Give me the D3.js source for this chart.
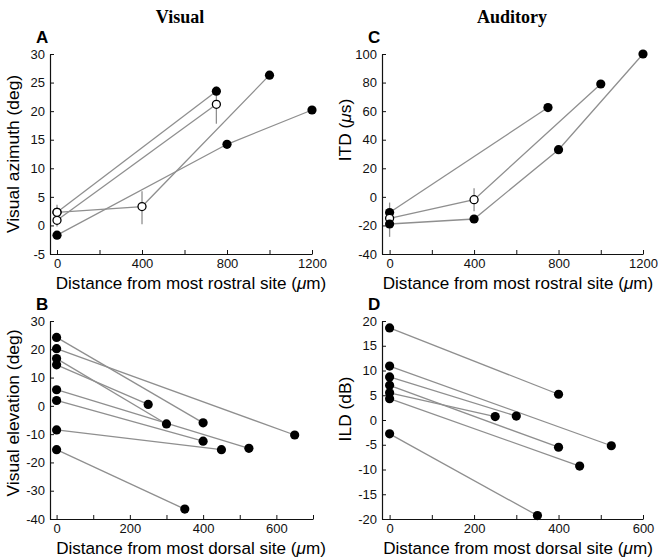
<!DOCTYPE html>
<html>
<head>
<meta charset="utf-8">
<script src="https://cdn.jsdelivr.net/npm/d3@7"></script>
<style>
  html, body { margin: 0; padding: 0; background: #fff; }
  svg { display: block; }
</style>
</head>
<body>
<svg id="chart" width="658" height="558"></svg>
<script>
// ---------------- DATA ----------------
// Panel A: visual azimuth vs distance from most rostral site
const panelA_series = [
  { x: [0, 800, 1200], y: [-1.7, 14.2, 20.2], open: [false, false, false] },
  { x: [0, 750],       y: [2.3, 23.5],        open: [true, false] },
  { x: [0, 750],       y: [0.9, 21.2],        open: [true, true] },
  { x: [0, 400, 1000], y: [2.3, 3.3, 26.3],   open: [true, true, false] }
];
const panelA_errors = [ // [x, low, high]
  [0, 1.0, 3.6], [0, -0.2, 2.0], [400, 0.2, 6.0], [750, 17.8, 24.3]
];
// Panel C: ITD vs distance from most rostral site
const panelC_series = [
  { x: [0, 750],            y: [-11, 62.5],            open: [false, false] },
  { x: [0, 400, 1000],      y: [-15, -2, 79],          open: [true, true, false] },
  { x: [0, 400, 800, 1200], y: [-19, -15.5, 33, 100],  open: [false, false, false, false] }
];
const panelC_errors = [
  [0, -28, -4], [400, -10, 6]
];
// Panel B: visual elevation vs distance from most dorsal site
const panelB_start = [24.2, 20.2, 16.7, 14.5, 5.7, 1.9, -8.5, -15.5];
const panelB_endX  = [400, 650, 300, 250, 525, 400, 450, 350];
const panelB_endY  = [-6, -10.3, -6.4, 0.5, -15, -12.5, -15.5, -36.5];
// Panel D: ILD vs distance from most dorsal site
const panelD_start = [18.6, 10.9, 8.7, 7.0, 5.5, 4.3, -2.8];
const panelD_endX  = [400, 525, 300, 400, 250, 450, 350];
const panelD_endY  = [5.2, -5.2, 0.8, -5.5, 0.7, -9.3, -19.3];

// Tick values
const ticksA_x = [0, 200, 400, 600, 800, 1000, 1200];
const ticksA_y = [-5, 0, 5, 10, 15, 20, 25, 30];
const ticksC_y = [-40, -20, 0, 20, 40, 60, 80, 100];
const ticksB_x = [0, 100, 200, 300, 400, 500, 600, 700];
const ticksB_y = [-40, -30, -20, -10, 0, 10, 20, 30];
const ticksD_x = [0, 100, 200, 300, 400, 500, 600];
const ticksD_y = [-20, -15, -10, -5, 0, 5, 10, 15, 20];

// ---------------- DRAW ----------------
const svg = d3.select("#chart");
const SANS = "'Liberation Sans', Arial, Helvetica, sans-serif";
const SERIF = "'Liberation Serif', 'Times New Roman', serif";
const LINE = "#8f8f8f";

function toSeriesFromPairs(starts, endX, endY) {
  return starts.map((s, i) => ({ x: [0, endX[i]], y: [s, endY[i]], open: [false, false] }));
}

function panel(cfg) {
  const g = svg.append("g");
  const x = d3.scaleLinear().domain(cfg.xDomain).range([cfg.left, cfg.right]);
  const y = d3.scaleLinear().domain(cfg.yDomain).range([cfg.bottom, cfg.top]);

  const xAxis = d3.axisBottom(x).tickValues(cfg.xTicks)
    .tickFormat(d => (cfg.xLabelEvery && d % cfg.xLabelEvery !== 0) ? "" : String(d))
    .tickSizeInner(-4).tickSizeOuter(0).tickPadding(5);
  const yAxis = d3.axisLeft(y).tickValues(cfg.yTicks)
    .tickFormat(d => String(d))
    .tickSizeInner(-4).tickSizeOuter(0).tickPadding(5);

  const gx = g.append("g").attr("transform", `translate(0,${cfg.bottom})`).call(xAxis);
  const gy = g.append("g").attr("transform", `translate(${cfg.left},0)`).call(yAxis);
  [gx, gy].forEach(a => {
    a.selectAll("text").attr("font-family", SANS).attr("font-size", 13).attr("fill", "#111");
    a.selectAll("line").attr("stroke", "#111");
    a.select(".domain").attr("stroke", "#111").attr("stroke-width", 1.2);
  });

  // series lines
  const line = d3.line().x(d => x(d[0])).y(d => y(d[1]));
  cfg.series.forEach(s => {
    const pts = s.x.map((v, i) => [v, s.y[i]]);
    g.append("path").attr("d", line(pts)).attr("fill", "none")
      .attr("stroke", LINE).attr("stroke-width", 1.3);
  });
  // error bars
  (cfg.errors || []).forEach(e => {
    g.append("line").attr("x1", x(e[0])).attr("x2", x(e[0]))
      .attr("y1", y(e[1])).attr("y2", y(e[2]))
      .attr("stroke", LINE).attr("stroke-width", 1.3);
  });
  // markers
  cfg.series.forEach(s => {
    s.x.forEach((v, i) => {
      const c = g.append("circle").attr("cx", x(v)).attr("cy", y(s.y[i]));
      if (s.open[i]) c.attr("r", 4).attr("fill", "#fff").attr("stroke", "#000").attr("stroke-width", 1.3);
      else c.attr("r", 4.6).attr("fill", "#000");
    });
  });

  // panel letter
  g.append("text").attr("x", cfg.left - 14).attr("y", cfg.top - 11)
    .attr("font-family", SANS).attr("font-weight", "bold").attr("font-size", 17)
    .text(cfg.letter);

  // x label
  const xl = g.append("text")
    .attr("x", cfg.xLabelX).attr("y", cfg.bottom + 35)
    .attr("text-anchor", "middle").attr("font-family", SANS).attr("font-size", 17.1);
  xl.append("tspan").text(cfg.xLabel + " (");
  xl.append("tspan").attr("font-style", "italic").text("μ");
  xl.append("tspan").text("m)");

  // y label
  const yl = g.append("text")
    .attr("transform", `translate(${cfg.left - 31},${cfg.yLabelY}) rotate(-90)`)
    .attr("text-anchor", "middle").attr("font-family", SANS).attr("font-size", 17.4);
  cfg.yLabel.forEach(p => {
    const t = yl.append("tspan").text(p.t);
    if (p.i) t.attr("font-style", "italic");
  });
}

panel({
  letter: "A", left: 50, right: 312, top: 54, bottom: 254,
  xDomain: [-33, 1200], yDomain: [-5, 30],
  xTicks: ticksA_x, xLabelEvery: 400, yTicks: ticksA_y,
  series: panelA_series, errors: panelA_errors, xLabelX: 191,
  xLabel: "Distance from most rostral site", yLabel: [{ t: "Visual azimuth (deg)" }], yLabelY: 154
});
panel({
  letter: "C", left: 382, right: 643, top: 54, bottom: 254,
  xDomain: [-36, 1200], yDomain: [-40, 100],
  xTicks: ticksA_x, xLabelEvery: 400, yTicks: ticksC_y,
  series: panelC_series, errors: panelC_errors, xLabelX: 518,
  xLabel: "Distance from most rostral site", yLabel: [{ t: "ITD (" }, { t: "μ", i: true }, { t: "s)" }], yLabelY: 130
});
panel({
  letter: "B", left: 50, right: 313, top: 321, bottom: 519,
  xDomain: [-18, 700], yDomain: [-40, 30],
  xTicks: ticksB_x, xLabelEvery: 200, yTicks: ticksB_y,
  series: toSeriesFromPairs(panelB_start, panelB_endX, panelB_endY), xLabelX: 191,
  xLabel: "Distance from most dorsal site", yLabel: [{ t: "Visual elevation (deg)" }], yLabelY: 413
});
panel({
  letter: "D", left: 382, right: 643, top: 321, bottom: 519,
  xDomain: [-18, 600], yDomain: [-20, 20],
  xTicks: ticksD_x, xLabelEvery: 200, yTicks: ticksD_y,
  series: toSeriesFromPairs(panelD_start, panelD_endX, panelD_endY), xLabelX: 518,
  xLabel: "Distance from most dorsal site", yLabel: [{ t: "ILD (dB)" }], yLabelY: 409
});

// column titles
svg.append("text").attr("x", 180).attr("y", 23).attr("text-anchor", "middle")
  .attr("font-family", SERIF).attr("font-weight", "bold").attr("font-size", 18).text("Visual");
svg.append("text").attr("x", 512).attr("y", 23).attr("text-anchor", "middle")
  .attr("font-family", SERIF).attr("font-weight", "bold").attr("font-size", 18).text("Auditory");
</script>
</body>
</html>
